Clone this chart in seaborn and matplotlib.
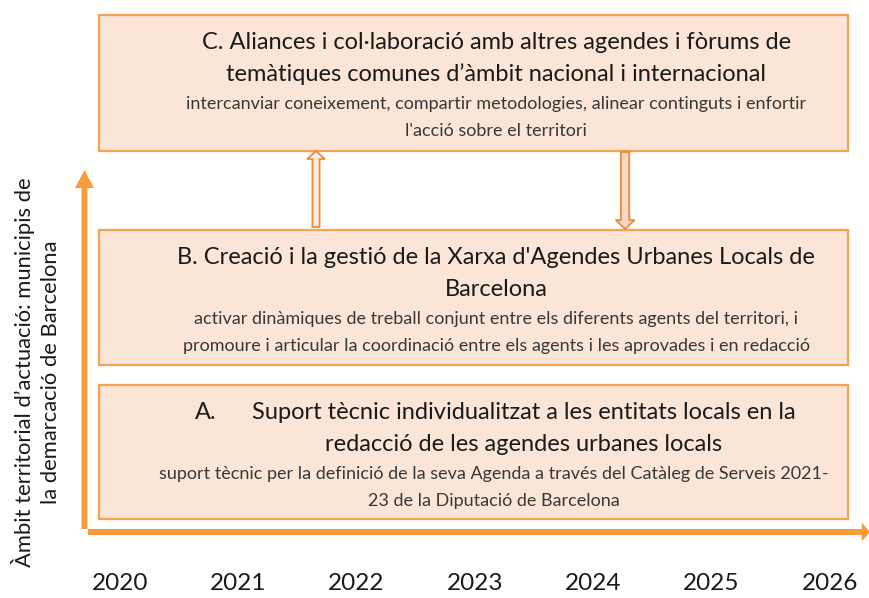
import matplotlib.pyplot as plt
from matplotlib.patches import FancyArrow
import seaborn as sns

# timeline and content
years = [2020, 2021, 2022, 2023, 2024, 2025, 2026]
levels = ['A.', 'B.', 'C.']
titles = [
    ['Suport tècnic individualitzat a les entitats locals en la',
     'redacció de les agendes urbanes locals'],
    ["B. Creació i la gestió de la Xarxa d'Agendes Urbanes Locals de",
     'Barcelona'],
    ['C. Aliances i col·laboració amb altres agendes i fòrums de',
     'temàtiques comunes d’àmbit nacional i internacional'],
]
details = [
    ['suport tècnic per la definició de la seva Agenda a través del Catàleg de Serveis 2021-',
     '23 de la Diputació de Barcelona'],
    ['activar dinàmiques de treball conjunt entre els diferents agents del territori, i',
     'promoure i articular la coordinació entre els agents i les aprovades i en redacció'],
    ['intercanviar coneixement, compartir metodologies, alinear continguts i enfortir',
     "l'acció sobre el territori"],
]
y_label = 'Àmbit territorial d’actuació: municipis de\nla demarcació de Barcelona'

# layout (x in years, y in vertical levels counted from top)
box_left, box_right = 2019.82, 2026.15
box_top = [385, 230, 15]
box_bottom = [519, 365, 151]
text_x = [2023.16, 2023.18, 2023.18]
title_x_a = 2023.41
letter_x_a = 2020.63

fill = '#FBE5D6'
edge = '#F7A252'
axis_orange = '#F89B3C'
dark = '#1A1A1A'
grey = '#383838'

sns.set_theme(style='white')
plt.rcParams['font.family'] = ['Lato', 'DejaVu Sans']

fig = plt.figure(figsize=(8.7, 5.98), dpi=100)
ax = fig.add_axes([0, 0.0535, 1, 0.9465])
ax.set_xlim(2018.986, 2026.34)
ax.set_ylim(566, 0)

# boxes as horizontal bars spanning the timeline
for top, bottom in zip(box_top, box_bottom):
    ax.barh((top + bottom) / 2, box_right - box_left, height=bottom - top,
            left=box_left, color=fill, edgecolor=edge, linewidth=1.6, zorder=2)

# titles and details
title_size = 17
detail_size = 13
for i in range(3):
    top = box_top[i]
    for j, line in enumerate(titles[i]):
        y = top + 27 + j * 32
        x = title_x_a if i == 0 else text_x[i]
        ax.text(x, y, line, ha='center', va='center', fontsize=title_size,
                color=dark, zorder=3)
    for j, line in enumerate(details[i]):
        ax.text(text_x[i], top + 89 + j * 27, line, ha='center', va='center',
                fontsize=detail_size, color=grey, zorder=3)
ax.text(letter_x_a, box_top[0] + 27, levels[0], ha='left', va='center',
        fontsize=title_size, color=dark, zorder=3)

# hollow arrows between B and C
ax.add_patch(FancyArrow(2021.657, 227, 0, -76, width=0.06, head_width=0.15,
                        head_length=8, length_includes_head=True,
                        facecolor='#FDEBDD', edgecolor='#F08A3C', lw=1.3, zorder=3))
ax.add_patch(FancyArrow(2024.27, 152, 0, 77, width=0.07, head_width=0.16,
                        head_length=9, length_includes_head=True,
                        facecolor='#F6D9C4', edgecolor='#F08A3C', lw=1.3, zorder=3))

# axes arrows
ax.add_patch(FancyArrow(2019.70, 529, 0, -359, width=0.05, head_width=0.16,
                        head_length=18, length_includes_head=True,
                        color=axis_orange, lw=0, zorder=1))
ax.add_patch(FancyArrow(2019.73, 532, 6.61, 0, width=6, head_width=19,
                        head_length=0.07, length_includes_head=True,
                        color=axis_orange, lw=0, zorder=1))

ax.text(2019.29, 372, y_label, rotation=90, ha='center', va='center',
        fontsize=15.8, color=dark, linespacing=1.32, multialignment='center')

ax.set_xticks(years)
ax.set_xticklabels([str(y) for y in years], fontsize=17.5, color=dark)
ax.tick_params(axis='x', length=0, pad=5)
ax.set_yticks([])
sns.despine(ax=ax, left=True, bottom=True)
ax.patch.set_alpha(0)

fig.savefig('out.png', dpi=100)
